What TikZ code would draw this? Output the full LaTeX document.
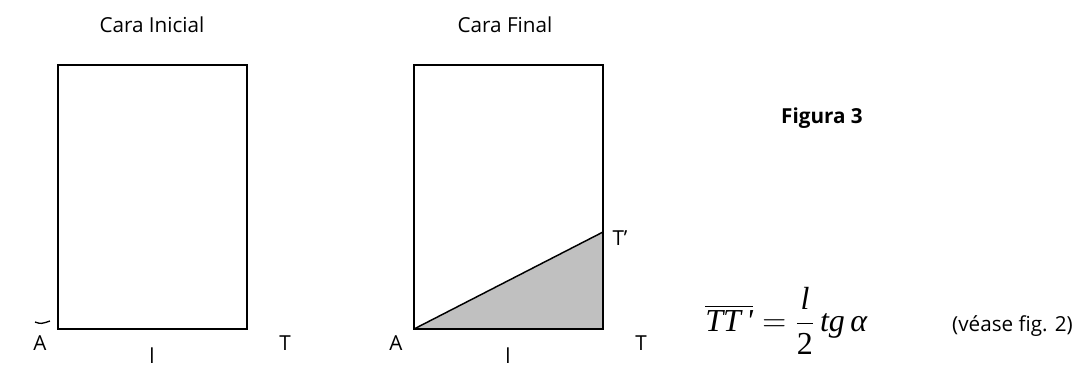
\documentclass[tikz,border=0pt]{standalone}
\usepackage{amsmath}
\usepackage{fontspec}
\setmainfont{Open Sans}
\newfontfamily\eqfont{Liberation Serif}
\usetikzlibrary{positioning}
\definecolor{shadegray}{RGB}{192,192,192}
\colorlet{edge}{black}

\begin{document}
\begin{tikzpicture}[x=0.75pt, y=-0.75pt,
    face/.style={draw=edge, line width=1.6pt},
    lbl/.style={font=\fontsize{15.5}{18}\selectfont, inner sep=0pt},
  ]
  \useasboundingbox (0,0) rectangle (1079,369);
  % cara inicial
  \coordinate (a1) at (58,329);
  \coordinate (t1) at (247,329);
  \coordinate (c1) at (247,65);
  \draw[face] (a1) rectangle (c1);
  \draw[line width=1pt] (35,322) .. controls (41,324) .. (50,321);
  \node[lbl] (ti1) at (152,25) {Cara Inicial};
  \node[lbl] (la1) at (40,343) {A};
  \node[lbl] (lt1) at (285,343) {T};
  \node[lbl] (ll1) at (152,356) {l};
  % cara final
  \coordinate (a2) at (414,329);
  \coordinate (t2) at (603,329);
  \coordinate (tp2) at (603,232);
  \coordinate (c2) at (603,65);
  \fill[shadegray] (a2) -- (t2) -- (tp2) -- cycle;
  \draw[line width=1.1pt] (a2) -- (tp2);
  \draw[face] (a2) rectangle (c2);
  \node[lbl] (ti2) at (505,25) {Cara Final};
  \node[lbl] (la2) at (396,343) {A};
  \node[lbl] (lt2) at (641,343) {T};
  \node[lbl] (ltp2) at (620,238) {T\char"27};
  \node[lbl] (ll2) at (508,356) {l};
  % figura y formula
  \node[lbl, font=\fontsize{15.5}{18}\selectfont\bfseries] (fig) at (822,118) {Figura 3};
  \node[anchor=west, inner sep=0pt, font=\fontsize{24}{28}\selectfont\eqfont] (eq) at (705,321)
    {$\overline{\hbox{\itshape TT\,\char"27}} = \dfrac{\hbox{\itshape l}}{\hbox{2}}\,\hbox{\itshape tg\kern4pt α}$};
  \node[lbl, anchor=east] (ref) at (1073,326) {(véase fig. 2)};
\end{tikzpicture}
\end{document}
